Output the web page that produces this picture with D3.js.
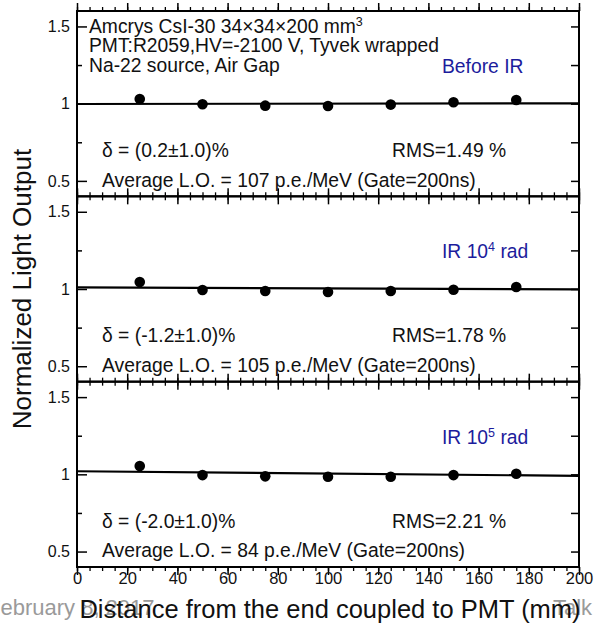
<!DOCTYPE html>
<html>
<head>
<meta charset="utf-8">
<script src="https://cdn.jsdelivr.net/npm/d3@7"></script>
<style>
  html, body { margin: 0; padding: 0; background: #fff; }
  svg { display: block; font-family: "Liberation Sans", Arial, Helvetica, sans-serif; }
</style>
</head>
<body>
<svg id="chart" width="595" height="623"></svg>
<script>
// Scan positions along the crystal (mm from the PMT end)
const distances = [25, 50, 75, 100, 125, 150, 175];

// Normalized light output at each position, one list per irradiation stage
const beforeIR = [1.030, 0.996, 0.987, 0.985, 0.994, 1.009, 1.024];
const ir1e4    = [1.045, 0.994, 0.987, 0.981, 0.987, 0.995, 1.013];
const ir1e5    = [1.054, 0.995, 0.987, 0.984, 0.984, 0.995, 1.004];

// Linear fit value at x = 0 and x = 200 mm
const fitBeforeIR = [0.998, 1.002];
const fitIr1e4    = [1.010, 0.997];
const fitIr1e5    = [1.020, 0.990];

// Panel annotations
const stageLabels = ["Before IR", "IR 10^4 rad", "IR 10^5 rad"];
const deltaLabels = ["δ = (0.2±1.0)%", "δ = (-1.2±1.0)%", "δ = (-2.0±1.0)%"];
const rmsLabels   = ["RMS=1.49 %", "RMS=1.78 %", "RMS=2.21 %"];
const avgLabels   = [
  "Average L.O. = 107 p.e./MeV (Gate=200ns)",
  "Average L.O. = 105 p.e./MeV (Gate=200ns)",
  "Average L.O. = 84 p.e./MeV (Gate=200ns)"
];
const headerLines = [
  "Amcrys CsI-30 34×34×200 mm",
  "PMT:R2059,HV=-2100 V, Tyvek wrapped",
  "Na-22 source, Air Gap"
];

// Axis ticks
const xMajorTicks = [0, 20, 40, 60, 80, 100, 120, 140, 160, 180, 200];
const xMinorTicks = d3.range(0, 201, 5);
const yMajorTicks = [0.5, 1, 1.5];
const yMinorTicks = [0.75, 1.25];

const panels = [
  { values: beforeIR, fit: fitBeforeIR },
  { values: ir1e4,    fit: fitIr1e4 },
  { values: ir1e5,    fit: fitIr1e5 }
];

const svg = d3.select("#chart");
const plotLeft = 77, plotRight = 579, plotTop = 11, plotBottom = 567;
const panelH = (plotBottom - plotTop) / panels.length;
const blue = "#1c1c9c";
const fontMain = "19.3px";

const x = d3.scaleLinear().domain([0, 200]).range([plotLeft, plotRight]);

panels.forEach((p, i) => {
  const y0 = plotTop + i * panelH, y1 = y0 + panelH;
  const y = d3.scaleLinear().domain([0.4, 1.6]).range([y1, y0]);
  const g = svg.append("g");

  // inward y ticks on both sides
  g.append("g").attr("transform", `translate(${plotLeft},0)`)
    .call(d3.axisLeft(y).tickValues(yMajorTicks).tickSizeInner(-10).tickSizeOuter(0)
      .tickPadding(7).tickFormat(d3.format("")))
    .call(a => a.select(".domain").remove())
    .call(a => a.selectAll("line").attr("stroke-width", 1.5))
    .call(a => a.selectAll("text").attr("font-size", "16px").attr("font-family", null).attr("fill", "#111"));
  g.append("g").attr("transform", `translate(${plotLeft},0)`)
    .call(d3.axisLeft(y).tickValues(yMinorTicks).tickSizeInner(-5).tickSizeOuter(0).tickFormat(""))
    .call(a => a.select(".domain").remove())
    .call(a => a.selectAll("line").attr("stroke-width", 1.5));
  g.append("g").attr("transform", `translate(${plotRight},0)`)
    .call(d3.axisRight(y).tickValues(yMajorTicks.concat(yMinorTicks)).tickSizeInner(-8).tickSizeOuter(0).tickFormat(""))
    .call(a => a.select(".domain").remove())
    .call(a => a.selectAll("line").attr("stroke-width", 1.5));

  // inward x ticks on the top and bottom edge of each panel
  [[d3.axisTop, y1], [d3.axisBottom, y0]].forEach(([axisFn, yy]) => {
    g.append("g").attr("transform", `translate(0,${yy})`)
      .call(axisFn(x).tickValues(xMinorTicks).tickSizeInner(-4).tickSizeOuter(0).tickFormat(""))
      .call(a => a.select(".domain").remove())
      .call(a => a.selectAll("line").attr("stroke-width", 1.3));
    g.append("g").attr("transform", `translate(0,${yy})`)
      .call(axisFn(x).tickValues(xMajorTicks).tickSizeInner(-8).tickSizeOuter(0).tickFormat(""))
      .call(a => a.select(".domain").remove())
      .call(a => a.selectAll("line").attr("stroke-width", 1.5));
  });

  // fit line
  g.append("line")
    .attr("x1", x(0)).attr("y1", y(p.fit[0]))
    .attr("x2", x(200)).attr("y2", y(p.fit[1]))
    .attr("stroke", "#000").attr("stroke-width", 2.2);

  // measured points
  g.selectAll("circle").data(p.values).join("circle")
    .attr("cx", (d, k) => x(distances[k])).attr("cy", d => y(d))
    .attr("r", 5.3).attr("fill", "#000");

  // frame
  g.append("rect").attr("x", plotLeft).attr("y", y0).attr("width", plotRight - plotLeft).attr("height", panelH)
    .attr("fill", "none").attr("stroke", "#000").attr("stroke-width", 2);

  // stage label (blue) with superscript exponent
  const sl = g.append("text").attr("x", 442).attr("y", y0 + 62)
    .attr("font-size", fontMain).attr("fill", blue);
  const parts = stageLabels[i].split("^");
  if (parts.length === 1) {
    sl.text(parts[0]);
  } else {
    const sp = parts[1].indexOf(" ");
    sl.append("tspan").text(parts[0]);
    sl.append("tspan").attr("dy", -7).attr("font-size", "12.5px").text(parts[1].slice(0, sp));
    sl.append("tspan").attr("dy", 7).text(parts[1].slice(sp));
  }

  g.append("text").attr("x", 102).attr("y", y0 + 146)
    .attr("font-size", fontMain).attr("fill", "#111").text(deltaLabels[i]);
  g.append("text").attr("x", 392).attr("y", y0 + 146)
    .attr("font-size", fontMain).attr("fill", "#111").text(rmsLabels[i]);
  g.append("text").attr("x", 102).attr("y", y0 + 175.5)
    .attr("font-size", fontMain).attr("fill", "#111").text(avgLabels[i]);
});

// header block in the top panel
headerLines.forEach((t, k) => {
  const txt = svg.append("text").attr("x", 89).attr("y", 33 + k * 19.3)
    .attr("font-size", fontMain).attr("fill", "#111").text(t);
  if (k === 0) txt.append("tspan").attr("dy", -7).attr("font-size", "12.5px").text("3");
});

// bottom x labels
svg.append("g").attr("transform", `translate(0,${plotBottom})`)
  .call(d3.axisBottom(x).tickValues(xMajorTicks).tickSize(0).tickPadding(5).tickFormat(d3.format("")))
  .call(a => a.select(".domain").remove())
  .call(a => a.selectAll("text").attr("font-size", "16.5px").attr("font-family", null).attr("fill", "#111"));

// slide footer under the axis title
svg.append("text").attr("x", -13).attr("y", 615).attr("font-size", "22px")
  .attr("fill", "#9a9a9a").text("February 8, 2017");
svg.append("text").attr("x", 553).attr("y", 615).attr("font-size", "22px")
  .attr("fill", "#9a9a9a").text("Talk");

// axis titles
svg.append("text").attr("x", (plotLeft + plotRight) / 2 + 2).attr("y", 618)
  .attr("text-anchor", "middle").attr("font-size", "25.5px").attr("fill", "#111")
  .text("Distance from the end coupled to PMT (mm)");
svg.append("text").attr("transform", "translate(31,289) rotate(-90)")
  .attr("text-anchor", "middle").attr("font-size", "26px").attr("fill", "#111")
  .text("Normalized Light Output");
</script>
</body>
</html>
